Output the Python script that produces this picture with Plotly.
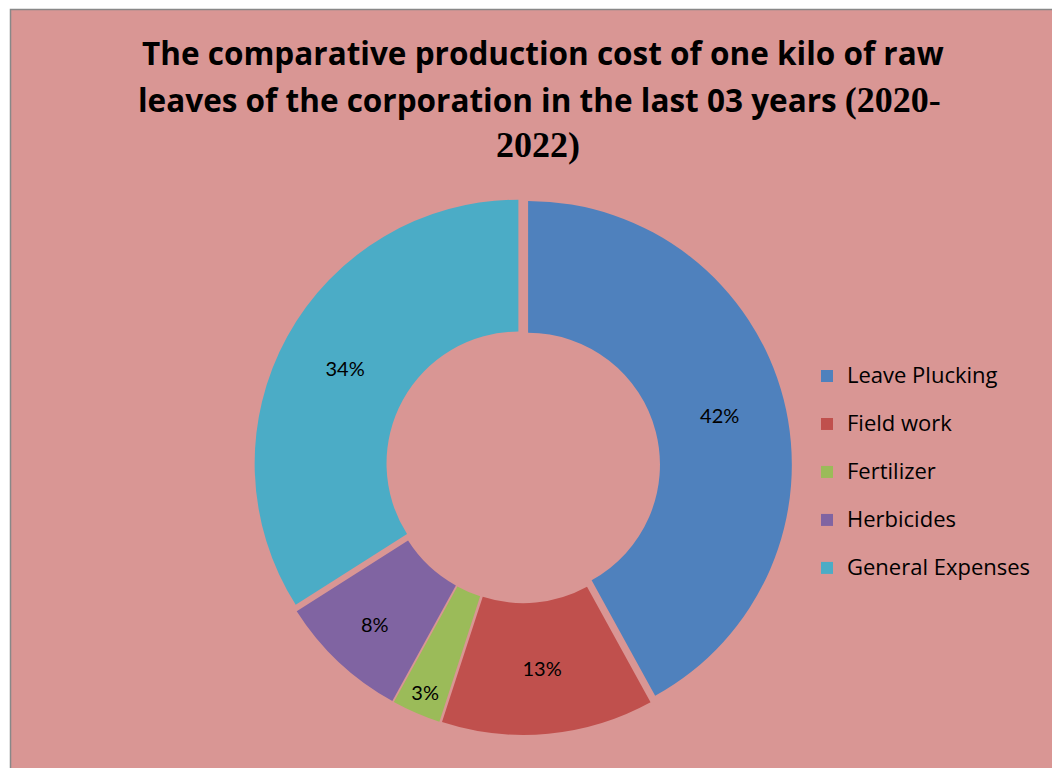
import plotly.graph_objects as go

# Cost shares of producing one kilo of raw leaves (2020-2022)
categories = ["Leave Plucking", "Field work", "Fertilizer", "Herbicides", "General Expenses"]
shares = [42, 13, 3, 8, 34]
colors = ["#4F81BD", "#C0504D", "#9BBB59", "#8064A2", "#4BACC6"]

SERIF = "font-family:Liberation Serif;font-size:36px"
title_lines = [
    "The comparative production cost of one kilo of raw",
    f"leaves of the corporation in the last 03 years <span style='{SERIF}'>(2020-</span>",
    f"<span style='{SERIF}'>2022)</span>",
]

W, H = 1052, 768
BG = "#D99694"
LABEL_FONT = "Lato, 'Open Sans', sans-serif"
TEXT_FONT = "'Open Sans', 'Noto Sans', sans-serif"


def px_x(x):
    return x / W


def px_y(y):
    return 1 - y / H


# Legend entries use a tall row font for spacing; the span sets the visible size
legend_labels = [
    f"<span style='font-size:22px;baseline-shift:6px'>{c}</span>" for c in categories
]

fig = go.Figure()
fig.add_trace(go.Pie(
    labels=legend_labels,
    values=shares,
    hole=0.5,
    sort=False,
    direction="clockwise",
    rotation=0,
    pull=[0.02] * len(shares),
    marker=dict(colors=colors, line=dict(width=0)),
    texttemplate="%{percent:.0%}",
    textposition="inside",
    insidetextorientation="horizontal",
    textfont=dict(family=LABEL_FONT, size=20, color="#000000"),
    domain=dict(x=[px_x(254), px_x(792)], y=[px_y(735), px_y(197)]),
    showlegend=True,
))

# Chart area background with a thin grey frame on the top and left
fig.add_shape(
    type="rect", xref="paper", yref="paper", layer="below",
    x0=px_x(10.5), x1=1.02, y0=-0.02, y1=px_y(9.5),
    fillcolor=BG, line=dict(color="#888888", width=1.5),
)

title_centers = [(543, 52), (539, 99), (538, 145)]
for line, (xc, yc) in zip(title_lines, title_centers):
    fig.add_annotation(
        text=f"<b>{line}</b>", xref="paper", yref="paper",
        x=px_x(xc), y=px_y(yc), xanchor="center", yanchor="middle",
        showarrow=False, font=dict(family=TEXT_FONT, size=31.5, color="#000000"),
    )

fig.update_layout(
    width=W, height=H,
    margin=dict(l=0, r=0, t=0, b=0),
    paper_bgcolor="#FFFFFF",
    plot_bgcolor=BG,
    uniformtext=dict(minsize=20, mode="show"),
    legend=dict(
        x=px_x(807), y=px_y(347), xanchor="left", yanchor="top",
        bgcolor="rgba(0,0,0,0)", borderwidth=0,
        font=dict(family=TEXT_FONT, size=34.6, color="#000000"),
        traceorder="normal",
    ),
)

fig.write_html("out.html")
